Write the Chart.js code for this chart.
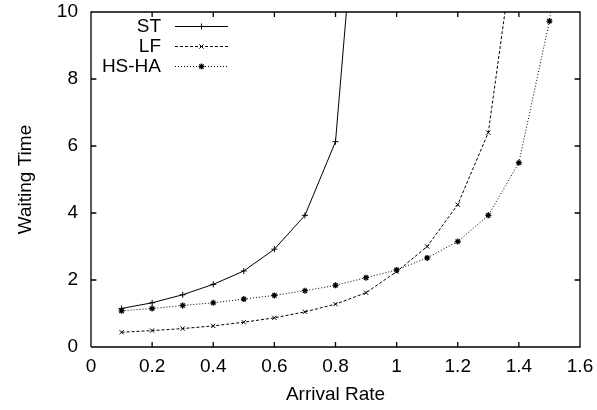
<!DOCTYPE html>
<html>
<head>
<meta charset="utf-8">
<script src="https://cdn.jsdelivr.net/npm/chart.js@4.4.1/dist/chart.umd.min.js"></script>
<style>
  html, body { margin: 0; padding: 0; background: #fff; }
  #wrap { width: 597px; height: 410px; position: relative; }
</style>
</head>
<body>
<div id="wrap"><canvas id="waitChart"></canvas></div>
<script>
// values
const arrivalRate = [0.1, 0.2, 0.3, 0.4, 0.5, 0.6, 0.7, 0.8, 0.9, 1.0, 1.1, 1.2, 1.3, 1.4, 1.5, 1.6];
const stWait = [1.15, 1.32, 1.56, 1.87, 2.27, 2.92, 3.93, 6.13, 17];
const lfWait = [0.44, 0.49, 0.55, 0.63, 0.74, 0.87, 1.05, 1.28, 1.62, 2.25, 3.0, 4.25, 6.4, 13];
const hsWait = [1.08, 1.15, 1.24, 1.32, 1.43, 1.54, 1.68, 1.84, 2.07, 2.3, 2.66, 3.15, 3.93, 5.5, 9.73, 18];
const seriesNames = ["ST", "LF", "HS-HA"];
const xTicks = [0, 0.2, 0.4, 0.6, 0.8, 1, 1.2, 1.4, 1.6];
const yTicks = [0, 2, 4, 6, 8, 10];

const FONT = "'Liberation Sans', Arial, Helvetica, sans-serif";
const FONT_SIZE = 19;

const xMin = xTicks[0], xMax = xTicks[xTicks.length - 1];
const yMin = yTicks[0], yMax = yTicks[yTicks.length - 1];

function toPoints(vals) {
  return vals.map((v, i) => ({ x: arrivalRate[i], y: v }));
}

function noPadding(scale) {
  scale.paddingLeft = 0;
  scale.paddingRight = 0;
  scale.paddingTop = 0;
  scale.paddingBottom = 0;
}

// gnuplot frame + inward tick marks, built from the axis ranges and tick lists
function framePoints() {
  const tx = (xMax - xMin) * 0.011;   // short ticks, about 5px
  const ty = (yMax - yMin) * 0.015;
  const gap = { x: xMin, y: null };
  const pts = [
    { x: xMin, y: yMin }, { x: xMax, y: yMin }, { x: xMax, y: yMax },
    { x: xMin, y: yMax }, { x: xMin, y: yMin }, gap,
  ];
  xTicks.slice(1, -1).forEach((t) => {
    pts.push({ x: t, y: yMin }, { x: t, y: yMin + ty }, { x: t, y: null });
    pts.push({ x: t, y: yMax }, { x: t, y: yMax - ty }, { x: t, y: null });
  });
  yTicks.slice(1, -1).forEach((t) => {
    pts.push({ x: xMin, y: t }, { x: xMin + tx, y: t }, { x: xMin, y: null });
    pts.push({ x: xMax, y: t }, { x: xMax - tx, y: t }, { x: xMax, y: null });
  });
  return pts;
}

// gnuplot-style key: right-aligned label, then line sample with marker
const keyPlugin = {
  id: "gnuKey",
  afterDraw(chart) {
    const c = chart.ctx;
    const textRight = 161, lineStart = 175, lineEnd = 228;
    const rows = [26, 46, 66];
    chart.data.datasets.forEach((ds) => {
      const i = seriesNames.indexOf(ds.label);
      if (i < 0) return;
      const y = rows[i];
      c.save();
      c.fillStyle = "#000";
      c.font = FONT_SIZE + "px " + FONT;
      c.textAlign = "right";
      c.textBaseline = "middle";
      c.fillText(ds.label, textRight, y + 1);

      c.strokeStyle = "#000";
      c.lineWidth = 1;
      c.setLineDash(ds.borderDash || []);
      c.beginPath();
      c.moveTo(lineStart, y + 0.5);
      c.lineTo(lineEnd, y + 0.5);
      c.stroke();
      c.setLineDash([]);
      c.lineWidth = ds.pointBorderWidth;
      Chart.helpers.drawPoint(c, {
        pointStyle: ds.pointStyle,
        radius: ds.pointRadius,
        rotation: 0,
        borderWidth: ds.pointBorderWidth
      }, (lineStart + lineEnd) / 2, y + 0.5);
      c.restore();
    });
  }
};

new Chart(document.getElementById("waitChart"), {
  type: "line",
  data: {
    datasets: [
      {
        label: seriesNames[0],
        data: toPoints(stWait),
        borderColor: "#000",
        backgroundColor: "#000",
        borderWidth: 1,
        pointStyle: "cross",
        pointRadius: 3,
        pointBorderWidth: 1,
        tension: 0,
      },
      {
        label: seriesNames[1],
        data: toPoints(lfWait),
        borderColor: "#000",
        backgroundColor: "#000",
        borderWidth: 1,
        borderDash: [3, 2],
        pointStyle: "crossRot",
        pointRadius: 3,
        pointBorderWidth: 1,
        tension: 0,
      },
      {
        label: seriesNames[2],
        data: toPoints(hsWait),
        borderColor: "#000",
        backgroundColor: "#000",
        borderWidth: 1,
        borderDash: [1, 2],
        pointStyle: "star",
        pointRadius: 3,
        pointBorderWidth: 1.3,
        tension: 0,
      },
      {
        label: "frame",
        data: framePoints(),
        borderColor: "#000",
        borderWidth: 1.3,
        pointRadius: 0,
        spanGaps: false,
        tension: 0,
        clip: false,
      },
    ],
  },
  options: {
    responsive: true,
    maintainAspectRatio: false,
    animation: false,
    layout: { padding: { top: 12, right: 17, left: 0, bottom: 0 } },
    plugins: {
      legend: { display: false },
      tooltip: { enabled: false },
    },
    scales: {
      x: {
        type: "linear",
        min: xMin,
        max: xMax,
        grid: { display: false, drawTicks: false },
        border: { display: false },
        afterBuildTicks: (scale) => { scale.ticks = xTicks.map((v) => ({ value: v })); },
        afterFit: (scale) => { scale.height = 63; noPadding(scale); },
        ticks: {
          color: "#000",
          padding: 8,
          maxRotation: 0,
          autoSkip: false,
          font: { family: FONT, size: FONT_SIZE },
          callback: (v) => String(v),
        },
        title: {
          display: true,
          text: "Arrival Rate",
          color: "#000",
          font: { family: FONT, size: FONT_SIZE },
          padding: { top: 0, bottom: 4 },
        },
      },
      y: {
        min: yMin,
        max: yMax,
        grid: { display: false, drawTicks: false },
        border: { display: false },
        afterBuildTicks: (scale) => { scale.ticks = yTicks.map((v) => ({ value: v })); },
        afterFit: (scale) => { scale.width = 91; noPadding(scale); },
        ticks: {
          color: "#000",
          padding: 13,
          autoSkip: false,
          font: { family: FONT, size: FONT_SIZE },
          callback: (v) => String(v),
        },
        title: {
          display: true,
          text: "Waiting Time",
          color: "#000",
          font: { family: FONT, size: FONT_SIZE },
          padding: { top: 14, bottom: 0 },
        },
      },
    },
  },
  plugins: [keyPlugin],
});
</script>
</body>
</html>
